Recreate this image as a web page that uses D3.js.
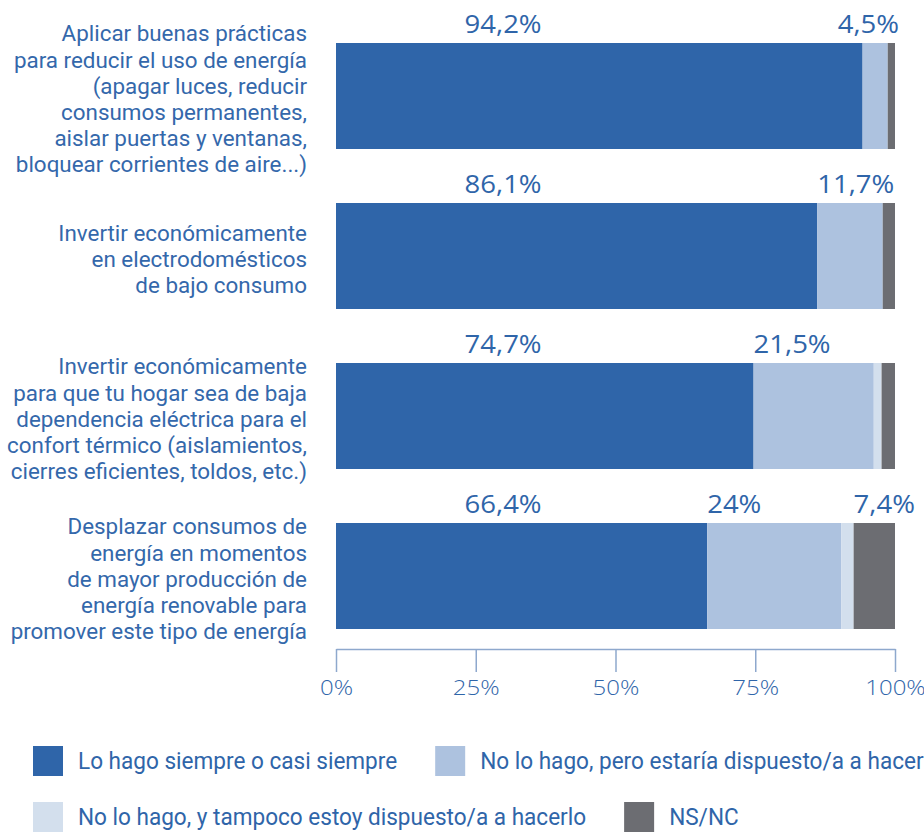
<!DOCTYPE html>
<html>
  <head>
    <meta charset="utf-8" />
    <script src="https://d3js.org/d3.v7.min.js"></script>
    <style>
      body { margin: 0; background: #fff; }
      text { font-family: Roboto, "Noto Sans", sans-serif; }
    </style>
  </head>
  <body>
    <svg width="924" height="832"></svg>
    <script>
      // categories (lines of each label)
      var categories = [
        ["Aplicar buenas prácticas", "para reducir el uso de energía", "(apagar luces, reducir", "consumos permanentes,", "aislar puertas y ventanas,", "bloquear corrientes de aire...)"],
        ["Invertir económicamente", "en electrodomésticos", "de bajo consumo"],
        ["Invertir económicamente", "para que tu hogar sea de baja", "dependencia eléctrica para el", "confort térmico (aislamientos,", "cierres eficientes, toldos, etc.)"],
        ["Desplazar consumos de", "energía en momentos", "de mayor producción de", "energía renovable para", "promover este tipo de energía"]
      ];

      var seriesNames = [
        "Lo hago siempre o casi siempre",
        "No lo hago, pero estaría dispuesto/a a hacerlo",
        "No lo hago, y tampoco estoy dispuesto/a a hacerlo",
        "NS/NC"
      ];
      var seriesColors = ["#2f65a9", "#adc2df", "#d3dfed", "#6c6d72"];

      // one array per series, one value per category (%)
      var siempre = [94.2, 86.1, 74.7, 66.4];
      var dispuesto = [4.5, 11.7, 21.5, 24];
      var noDispuesto = [0, 0, 1.4, 2.2];
      var nsnc = [1.3, 2.2, 2.4, 7.4];

      var ticks = [0, 25, 50, 75, 100];

      var series = [siempre, dispuesto, noDispuesto, nsnc];
      var blue = "#2f65a9";

      var svg = d3.select("svg");

      var x = d3.scaleLinear().domain([0, 100]).range([336, 895]);
      var y = d3.scaleBand()
        .domain(d3.range(categories.length))
        .range([43, 629])
        .paddingInner(0.3375)
        .paddingOuter(0);

      // widen a text (the original uses a wider font)
      function stretch(t, f) {
        var w = t.node().getComputedTextLength() * f;
        t.attr("textLength", w).attr("lengthAdjust", "spacingAndGlyphs");
        return w;
      }

      // stacked bars
      categories.forEach(function (cat, i) {
        var start = 0;
        var g = svg.append("g");
        series.forEach(function (s, k) {
          var v = s[i];
          if (v > 0) {
            g.append("rect")
              .attr("x", x(start))
              .attr("y", y(i))
              .attr("width", x(start + v) - x(start))
              .attr("height", y.bandwidth())
              .style("fill", seriesColors[k]);
          }
          // value labels above the bar
          if (v >= 4) {
            var t = g.append("text")
              .attr("y", y(i) - 10)
              .style("font-family", "'Open Sans', sans-serif")
              .style("font-size", "25px")
              .style("fill", blue)
              .text(String(v).replace(".", ",") + "%");
            var w = stretch(t, 1.1);
            var tx = k === 0 ? x(23) : x(start);
            if (k > 0 && k < series.length - 1) tx = Math.min(tx, x(100) + 4 - w);
            t.attr("x", tx);
          }
          start += v;
        });

        // category label
        var lh = 26.2;
        var cy = y(i) + y.bandwidth() / 2;
        var txt = svg.append("text")
          .attr("text-anchor", "end")
          .style("font-size", "22.4px")
          .style("fill", "#3468ab");
        cat.forEach(function (line, j) {
          txt.append("tspan")
            .attr("x", 307)
            .attr("y", cy + (j - (cat.length - 1) / 2) * lh + 3)
            .attr("dy", "0.35em")
            .text(line);
        });
      });

      // x axis
      var axis = svg.append("g")
        .attr("transform", "translate(0,649)")
        .call(d3.axisBottom(x).tickValues(ticks).tickSize(23).tickSizeOuter(0).tickPadding(9)
          .tickFormat(function (d) { return d + "%"; }));
      axis.select(".domain").attr("stroke", "#8ea8cd").attr("stroke-width", 1.5);
      axis.selectAll(".tick line").attr("stroke", "#8ea8cd").attr("stroke-width", 1.5);
      axis.selectAll(".tick text")
        .style("font-family", "'Open Sans', sans-serif")
        .style("font-weight", 300)
        .style("font-size", "20px")
        .style("fill", blue)
        .each(function () { stretch(d3.select(this), 1.2); });

      // legend (flows two per row)
      var lx = 33, ly = 746;
      seriesNames.forEach(function (name, k) {
        if (k === 2) { lx = 33; ly = 802; }
        svg.append("rect")
          .attr("x", lx).attr("y", ly)
          .attr("width", 30).attr("height", 30)
          .style("fill", seriesColors[k]);
        var t = svg.append("text")
          .attr("x", lx + 45)
          .attr("y", ly + 15)
          .attr("dy", "0.35em")
          .style("font-size", "24px")
          .style("fill", blue)
          .text(name);
        var w = stretch(t, 0.94);
        lx += 45 + w + 38;
      });
    </script>
  </body>
</html>
